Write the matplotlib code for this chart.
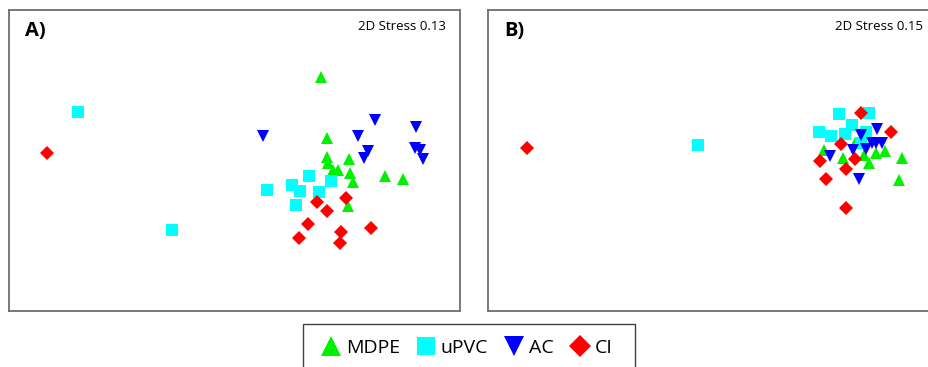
import matplotlib.pyplot as plt
from matplotlib.lines import Line2D
from matplotlib.patches import Rectangle

# nMDS ordination coordinates (pixel units of the panel)
# Panel A
a_mdpe_x = [321, 326.7, 327, 328, 333, 338, 349, 350, 353, 384.7, 402.7, 348]
a_mdpe_y = [76.7, 138, 157, 163, 170, 170, 159, 173, 182, 175.7, 179, 206]
a_upvc_x = [77.7, 172.3, 266.7, 292.3, 300, 309, 295.7, 319.3, 331.3]
a_upvc_y = [112, 230, 190, 184.7, 190.7, 176, 204.7, 192.3, 181]
a_ac_x = [263.3, 375.3, 357.7, 368.3, 364.3, 415.7, 415, 420, 422.7]
a_ac_y = [136, 120, 136, 150.7, 158.3, 126.7, 147.7, 150, 159]
a_ci_x = [46.7, 316.7, 326.7, 346, 308.3, 299, 341, 340, 370.7]
a_ci_y = [153.3, 201.7, 211, 197.7, 224.3, 238.3, 231.7, 242.7, 228.3]

# Panel B
b_mdpe_x = [824, 843.3, 855, 869.3, 876, 885, 901.7, 899.3, 864]
b_mdpe_y = [150, 158.3, 143.3, 163.3, 153.3, 151, 157.7, 180, 155]
b_upvc_x = [698.3, 839, 869, 851.7, 819.3, 830.7, 845, 866.3, 860.7]
b_upvc_y = [145, 114.3, 112.7, 125, 131.7, 136, 134, 132, 143.3]
b_ac_x = [876.7, 830, 859, 882, 871.7, 853, 861, 866, 876]
b_ac_y = [129.3, 156, 178.7, 143, 143, 150, 135, 148.5, 143]
b_ci_x = [526.7, 861, 890.7, 840.7, 820, 855, 846, 825.7, 845.7]
b_ci_y = [148.3, 113.3, 131.7, 144, 160.7, 159.3, 169.3, 179.3, 208.3]

groups = ['MDPE', 'uPVC', 'AC', 'CI']
colors = ['#00f000', '#00ffff', '#0000ff', '#ff0000']
markers = ['^', 's', 'v', 'D']
sizes = [9, 8, 9, 6.8]

W, H = 929, 367
fig = plt.figure(figsize=(W / 100, H / 100), dpi=100)
plt.rcParams['font.family'] = ['Open Sans', 'DejaVu Sans']


def px_axes(x0, y0, x1, y1):
    return fig.add_axes([x0 / W, 1 - y1 / H, (x1 - x0) / W, (y1 - y0) / H])


panels = [
    (px_axes(9, 10, 460, 311), (9, 460), 'A)', '2D Stress 0.13', 446,
     [(a_mdpe_x, a_mdpe_y), (a_upvc_x, a_upvc_y), (a_ac_x, a_ac_y), (a_ci_x, a_ci_y)]),
    (px_axes(488, 10, 940, 311), (488, 940), 'B)', '2D Stress 0.15', 923,
     [(b_mdpe_x, b_mdpe_y), (b_upvc_x, b_upvc_y), (b_ac_x, b_ac_y), (b_ci_x, b_ci_y)]),
]

for ax, xlim, label, stress, stress_x, data in panels:
    for (xs, ys), c, m, ms in zip(data, colors, markers, sizes):
        ax.plot(xs, ys, linestyle='none', marker=m, color=c, markersize=ms,
                markeredgewidth=0)
    ax.set_xlim(*xlim)
    ax.set_ylim(311, 10)
    ax.set_xticks([])
    ax.set_yticks([])
    for sp in ax.spines.values():
        sp.set_color('#6e6e6e')
        sp.set_linewidth(1.3)
    ax.text(xlim[0] + 16, 31, label, fontsize=14.5, fontweight='bold',
            ha='left', va='center')
    ax.text(stress_x, 26, stress, fontsize=9.5, ha='right', va='center')

# legend box
fig.patches.append(Rectangle((303 / W, 1 - 380 / H), (635 - 303) / W, (380 - 324) / H,
                             transform=fig.transFigure, fill=False,
                             edgecolor='#404040', linewidth=1.0))
handles = [Line2D([], [], linestyle='none', marker=m, color=c,
                  markersize=ms * 1.6, markeredgewidth=0)
           for c, m, ms in zip(colors, markers, sizes)]
fig.legend(handles, groups, loc='center', bbox_to_anchor=(466 / W, 1 - 348 / H),
           ncol=4, frameon=False, fontsize=14, handletextpad=0.15,
           columnspacing=0.75, handlelength=1.2)

plt.savefig('out.png', dpi=100)
